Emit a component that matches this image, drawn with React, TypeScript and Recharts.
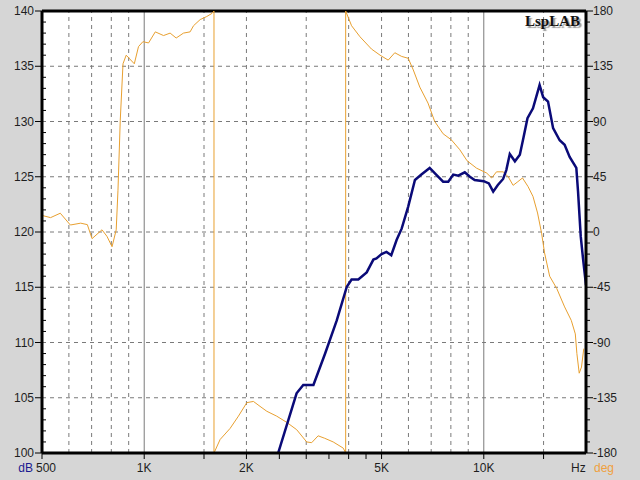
import {
  ComposedChart,
  Line,
  XAxis,
  YAxis,
  CartesianGrid,
  ReferenceLine,
} from 'recharts';

// magnitude (dB, left axis)
const magFreq = [
  2480, 2810, 2940, 3150, 3410, 3690, 3950, 4080, 4270, 4520, 4730, 4830, 5000,
  5170, 5340, 5540, 5730, 5990, 6270, 6550, 6930, 7240, 7590, 7860, 8130, 8410,
  8790, 9100, 9400, 10000, 10350, 10660, 11000, 11400, 11650, 11930, 12350,
  12770, 13100, 13450, 13960, 14600, 14960, 15460, 16000, 16730, 17300, 17900,
  18730, 18950, 19300, 19600, 20000,
];
const magDb = [
  100, 105.4, 106.15, 106.15, 109.0, 112.0, 115.05, 115.7, 115.7, 116.35, 117.5,
  117.6, 118.0, 118.2, 117.9, 119.3, 120.3, 122.3, 124.7, 125.2, 125.8, 125.2,
  124.55, 124.55, 125.2, 125.1, 125.4, 125.0, 124.7, 124.6, 124.4, 123.65,
  124.25, 124.8, 125.6, 127.06, 126.4, 127.0, 128.6, 130.3, 131.2, 133.3, 132.2,
  131.8, 129.4, 128.3, 127.9, 126.8, 125.8, 123.65, 119.6, 117.6, 115.2,
];

// phase (deg, right axis) - wraps at +/-180
const phaseFreq = [
  500, 530, 566, 606, 650, 680, 702, 751, 777, 804, 827, 837, 850, 866, 885, 935,
  962, 991, 1030, 1078, 1140, 1192, 1242, 1305, 1365, 1397, 1461, 1528, 1582,
  1605, 1605, 1673, 1790, 1894, 2005, 2097, 2193, 2296, 2456, 2627, 2812, 3009,
  3113, 3252, 3400, 3602, 3855, 3920, 3920, 4080, 4320, 4670, 4950, 5230, 5470,
  5730, 5990, 6200, 6480, 6850, 7170, 7590, 8030, 8500, 8930, 9520, 10200, 10550,
  10900, 11400, 11800, 12200, 12600, 13000, 13500, 13960, 14400, 14800, 15100,
  15630, 16400, 17300, 18100, 18600, 18800, 19100, 19400, 19700,
];
const phaseDeg = [
  13.5, 11.7, 15.3, 5.7, 7.2, 6, -5.4, 1.8, -3.6, -12, 1.8, 34, 91, 137, 144,
  137, 151, 155, 154, 163, 160, 162, 158, 162, 163, 168, 173, 175.5, 178, 180,
  -180, -169, -160, -150, -139, -138, -142, -146, -150, -155, -161, -171,
  -171.6, -166, -168, -171, -176, -180, 180, 168, 159, 149, 144, 140, 146, 143,
  141.5, 132, 118, 105, 90, 80, 75, 67, 58, 52, 48, 44, 49, 49, 45, 38, 41, 44,
  37, 29, 15.5, -1, -17, -36, -46, -61, -72, -83, -99, -115, -110, -95,
];

const xTicks = [500, 1000, 1500, 2000, 2500, 3000, 3500, 4000, 4500, 5000, 10000, 15000];
const xLabels: Record<number, string> = { 500: '500', 1000: '1K', 2000: '2K', 5000: '5K', 10000: '10K' };
const gridFreqs = [600, 700, 800, 900, 1500, 2000, 3000, 4000, 5000, 6000, 7000, 8000, 9000, 15000];
const solidFreqs = [1000, 10000];
const gridDb = [105, 110, 115, 120, 125, 130, 135];
const dbTicks = Array.from({ length: 41 }, (_, i) => 100 + i);
const degTicks = Array.from({ length: 41 }, (_, i) => -180 + i * 9);

const magData = magFreq.map((f, i) => ({ f, db: magDb[i] }));
const phaseData = phaseFreq.map((f, i) => ({ f, deg: phaseDeg[i] }));

const FONT = '"Liberation Sans", Arial, sans-serif';
const TXT = '#1e1e1e';
const GRID = '#7a7a7a';

function FreqTick({ x, y, payload }: any) {
  const v = payload.value;
  const label = xLabels[v];
  return (
    <g>
      <line x1={x} x2={x} y1={y} y2={y + 6} stroke="#000" />
      {label && v === 500 && (
        <text x={x - 9} y={y + 19} textAnchor="end" fontSize={12} fontFamily={FONT} fill="#1a1a90">
          dB
        </text>
      )}
      {label && (
        <text
          x={v === 500 ? x - 6 : x}
          y={y + 19}
          textAnchor={v === 500 ? 'start' : 'middle'}
          fontSize={12}
          fontFamily={FONT}
          fill={TXT}
        >
          {label}
        </text>
      )}
    </g>
  );
}

function DbTick({ x, y, payload }: any) {
  const v = payload.value;
  if (v % 5 !== 0) return <line x1={x} x2={x + 4} y1={y} y2={y} stroke="#000" />;
  return (
    <g>
      <line x1={x - 7} x2={x} y1={y} y2={y} stroke="#000" />
      <text x={x - 8} y={y + 4} textAnchor="end" fontSize={12} fontFamily={FONT} fill={TXT}>
        {v}
      </text>
    </g>
  );
}

function DegTick({ x, y, payload }: any) {
  const v = payload.value;
  if (v % 45 !== 0) return <line x1={x} x2={x + 4} y1={y} y2={y} stroke="#000" />;
  return (
    <g>
      <line x1={x} x2={x + 7} y1={y} y2={y} stroke="#000" />
      <text x={x + 7} y={y + 4} textAnchor="start" fontSize={12} fontFamily={FONT} fill={TXT}>
        {v}
      </text>
    </g>
  );
}

export default function App() {
  return (
    <div
      style={{
        position: 'absolute',
        left: 0,
        top: 0,
        width: 640,
        height: 480,
        background: '#d6d6d6',
        fontFamily: FONT,
      }}
    >
      <ComposedChart width={640} height={480} margin={{ top: 11, right: 0, bottom: 0, left: 0 }}>
        <CartesianGrid xAxisId="f" yAxisId="db" fill="#ffffff" horizontal={false} vertical={false} />
        <XAxis
          xAxisId="f"
          dataKey="f"
          type="number"
          scale="log"
          domain={[500, 20000]}
          allowDataOverflow
          ticks={xTicks}
          interval={0}
          height={27}
          tickSize={0}
          tickMargin={0}
          tickLine={false}
          axisLine={{ stroke: '#000', strokeWidth: 3 }}
          tick={<FreqTick />}
        />
        <YAxis
          yAxisId="db"
          orientation="left"
          width={42}
          domain={[100, 140]}
          allowDataOverflow
          ticks={dbTicks}
          interval={0}
          tickSize={0}
          tickMargin={0}
          tickLine={false}
          axisLine={{ stroke: '#000', strokeWidth: 3 }}
          tick={<DbTick />}
        />
        <YAxis
          yAxisId="deg"
          orientation="right"
          width={54}
          domain={[-180, 180]}
          allowDataOverflow
          ticks={degTicks}
          interval={0}
          tickSize={0}
          tickMargin={0}
          tickLine={false}
          axisLine={{ stroke: '#000', strokeWidth: 3 }}
          tick={<DegTick />}
        />
        {gridDb.map((v) => (
          <ReferenceLine key={'h' + v} xAxisId="f" yAxisId="db" y={v} stroke={GRID} strokeDasharray="4 4" />
        ))}
        {gridFreqs.map((f) => (
          <ReferenceLine key={'v' + f} xAxisId="f" yAxisId="db" x={f} stroke={GRID} strokeDasharray="4 4" />
        ))}
        {solidFreqs.map((f) => (
          <ReferenceLine key={'s' + f} xAxisId="f" yAxisId="db" x={f} stroke={GRID} strokeWidth={1} />
        ))}
        <ReferenceLine xAxisId="f" yAxisId="db" y={140} stroke="#000" strokeWidth={3} />
        <Line
          xAxisId="f"
          yAxisId="deg"
          data={phaseData}
          dataKey="deg"
          type="linear"
          stroke="#e8a030"
          strokeWidth={1}
          dot={false}
          isAnimationActive={false}
        />
        <Line
          xAxisId="f"
          yAxisId="db"
          data={magData}
          dataKey="db"
          type="linear"
          stroke="#0a0a78"
          strokeWidth={2.5}
          dot={false}
          isAnimationActive={false}
        />
      </ComposedChart>
      <div style={{ position: 'absolute', left: 571, top: 461, fontSize: 12, color: TXT }}>Hz</div>
      <div style={{ position: 'absolute', left: 594, top: 461, fontSize: 12, color: '#f0a040' }}>deg</div>
      <div
        style={{
          position: 'absolute',
          right: 60,
          top: 14,
          fontSize: 15,
          lineHeight: '15px',
          fontWeight: 'bold',
          fontFamily: '"Liberation Serif", "Times New Roman", serif',
          color: '#111',
          textShadow: '2px 2px 1px #9a9a9a',
        }}
      >
        LspLAB
      </div>
    </div>
  );
}
